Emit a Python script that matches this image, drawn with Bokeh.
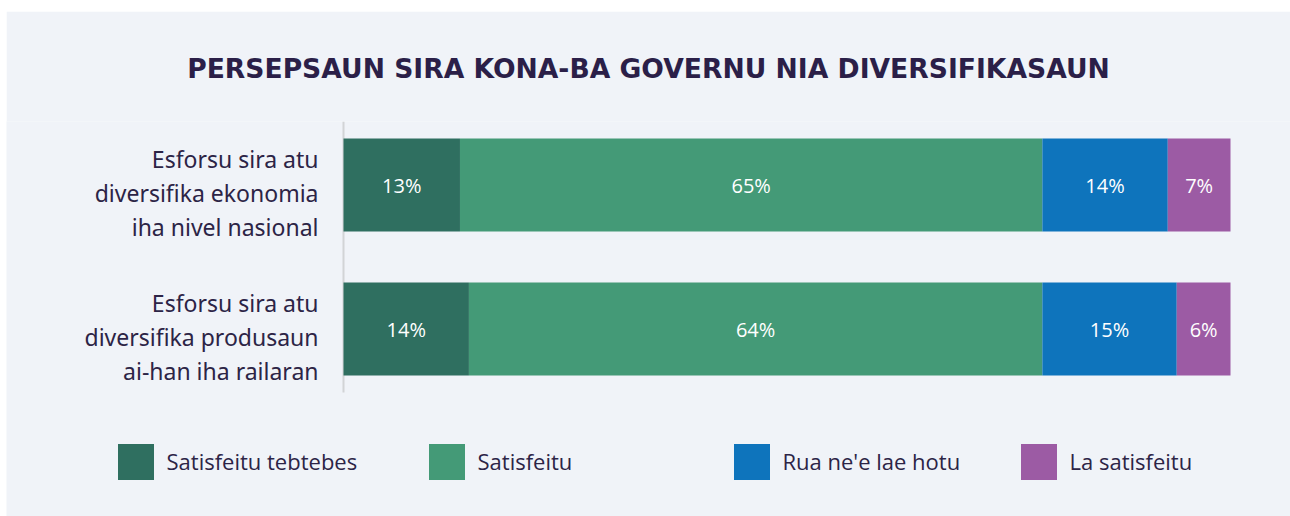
from bokeh.plotting import figure
from bokeh.models import ColumnDataSource, Range1d, Legend, LegendItem, Title
from bokeh.embed import file_html
from bokeh.resources import INLINE
from bokeh.core.properties import value

# ---- data ----
categories = [
    "Esforsu sira atu\ndiversifika ekonomia\niha nivel nasional",
    "Esforsu sira atu\ndiversifika produsaun\nai-han iha railaran",
]
series = ["Satisfeitu tebtebes", "Satisfeitu", "Rua ne'e lae hotu", "La satisfeitu"]
values_cat1 = [13, 65, 14, 7]
values_cat2 = [14, 64, 15, 6]
colors = ["#2f6f60", "#449a77", "#0e74bc", "#9c5ba4"]
title_text = "PERSEPSAUN SIRA KONA-BA GOVERNU NIA DIVERSIFIKASAUN"

BG = "#f0f3f8"
TXT = "#2c2446"

ypos = [1, 0]
all_vals = [values_cat1, values_cat2]
data = {"y": ypos}
keys = []
for i, s in enumerate(series):
    k = "s%d" % i
    keys.append(k)
    data[k] = [v[i] for v in all_vals]
source = ColumnDataSource(data)

total = max(sum(v) for v in all_vals)

# ---- layout (pixels) ----
W, H = 1284, 505
FRAME_TOP = 110
BAR_X0, BAR_X1 = 337, 1224        # where 0 and total fall (figure px)
ROW_GAP = 144                     # px between the two bar centres
ROW1_C = 173.5                    # centre of the first bar (figure px)
ppu = (BAR_X1 - BAR_X0) / total
x_start = -BAR_X0 / ppu
x_end = total + (W - BAR_X1) / ppu
y_top = 1 + (ROW1_C - FRAME_TOP) / ROW_GAP
y_bot = y_top - (H - FRAME_TOP) / ROW_GAP
axis_lo, axis_hi = -0.441, 1.441

p = figure(width=W, height=H, margin=(11, 0, 0, 6),
           output_backend="svg", toolbar_location=None,
           x_range=Range1d(x_start, x_end), y_range=Range1d(y_bot, y_top),
           x_axis_location=None, y_axis_location=None,
           min_border_left=0, min_border_right=0,
           min_border_top=FRAME_TOP, min_border_bottom=0)
p.background_fill_color = BG
p.border_fill_color = BG
p.outline_line_color = None
p.grid.visible = False

t = Title(text=title_text, align="center", standoff=76,
          text_font="DejaVu Sans", text_font_size="26.6px", text_font_style="bold",
          text_color="#2b1f48")
p.add_layout(t, "above")

# axis line
p.segment(x0=[0], y0=[axis_lo], x1=[0], y1=[axis_hi], line_color="#d2d4d6", line_width=2)

renderers = p.hbar_stack(keys, y="y", height=0.646, color=colors, line_color=None,
                         source=source)

# category labels
p.text(x=[0] * len(ypos), y=ypos, text=categories, x_offset=-25, y_offset=8,
       text_align="right", text_baseline="middle", text_line_height=1.06,
       text_font=value("Noto Sans"), text_font_size="23px", text_color=TXT)

# value labels
for row, vals in zip(ypos, all_vals):
    cum = 0
    xs, labels = [], []
    for v in vals:
        xs.append(cum + v / 2)
        labels.append("%d%%" % v)
        cum += v
    p.text(x=xs, y=[row] * len(xs), text=labels, text_color="white",
           text_font=value("Open Sans"), text_font_size="20px",
           text_align="center", text_baseline="middle")

legend_x = [106.5, 417.5, 722.5, 1009.5]
for r, s, lx in zip(renderers, series, legend_x):
    lg = Legend(items=[LegendItem(label=s, renderers=[r])], location=(lx, 32.5),
                orientation="horizontal", padding=0, margin=0, spacing=0,
                glyph_width=45, glyph_height=45, label_standoff=9,
                label_text_font="Open Sans", label_text_font_size="22px",
                label_text_color=TXT, border_line_color=None,
                background_fill_alpha=0)
    p.add_layout(lg, "center")

open("out.html", "w").write(file_html(p, INLINE))
